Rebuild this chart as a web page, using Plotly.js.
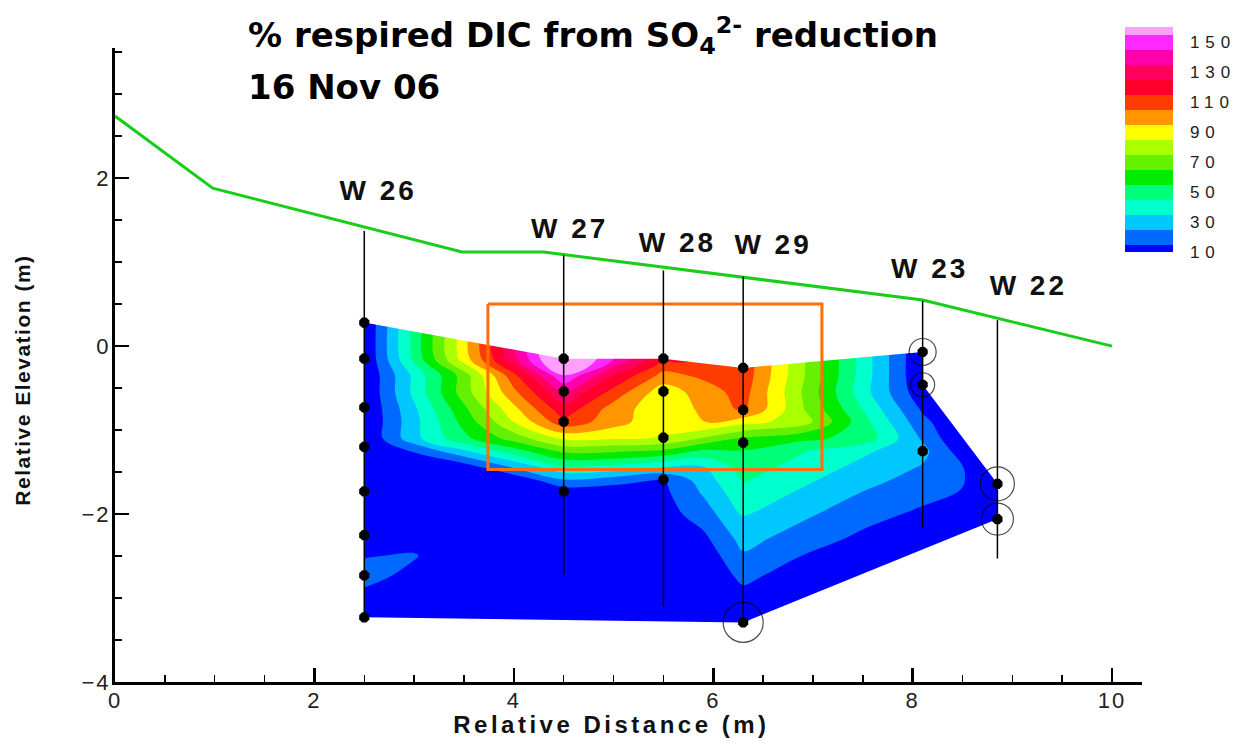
<!DOCTYPE html>
<html>
<head>
<meta charset="utf-8">
<script src="https://cdn.plot.ly/plotly-3.0.1.min.js"></script>
<style>
  html, body { margin: 0; padding: 0; background: #ffffff; }
  #chart { width: 1253px; height: 744px; }
  .xtick text, .ytick text { letter-spacing: 2px; }
  .colorbar text { letter-spacing: 6px; }
  .textpoint text { letter-spacing: 3px; }
  .annotation[data-index="2"] text { letter-spacing: 3.5px; }
  .annotation[data-index="3"] text { letter-spacing: 1.5px; }
</style>
</head>
<body>
<div id="chart"></div>
<script>
// Percent of respired DIC from sulfate reduction, values on a section grid
const gridX = [2.5, 3.0, 3.5, 4.0, 4.5, 5.0, 5.5, 5.9, 6.3, 6.9, 7.5, 8.1, 8.5, 8.85];
const gridY = [-3.3, -3.0, -2.75, -2.5, -2.3, -2.0, -1.75, -1.6, -1.45, -1.25, -1.1, -0.9, -0.75, -0.55, -0.35, -0.15, 0.3];
const gridZ = [
  [5, 5, 5, 5, 5, 5, 5, 5, 4, 4, 4, 4, 4, 4],
  [11, 5, 5, 5, 5, 5, 5, 5, 11.2, 4.2, 4, 4, 4, 4],
  [19, 11, 5, 5, 5.5, 5, 5, 6.3, 17.4, 9.2, 4, 4, 4, 4],
  [14.5, 16, 5, 5, 6, 5, 6.3, 8.5, 23.6, 14.7, 8.7, 5, 4, 4],
  [6.4, 10.4, 10.7, 5.5, 6, 5.5, 7.9, 12.4, 28.5, 19.7, 12.7, 7.1, 4, 4],
  [5, 5.5, 6.3, 6, 6.5, 7.6, 10.5, 19.9, 36, 27.1, 18.6, 13.1, 9.4, 5],
  [5, 5.5, 6, 6.5, 7, 8, 12.6, 26.1, 42.1, 33.3, 24.5, 18.1, 14.4, 5],
  [5, 5.5, 6, 6.5, 23.4, 19.1, 13.9, 29.8, 45.9, 37, 28.2, 21, 15.7, 5],
  [5, 5.5, 7.9, 25.1, 42.4, 40.7, 34.2, 33.5, 49.6, 40.8, 31.9, 24, 15.5, 5],
  [5, 15.9, 33.2, 50.4, 67.7, 66.7, 63, 52.8, 54.5, 45.7, 36.9, 28, 9.7, 5],
  [5, 31.8, 52.2, 69.4, 86.7, 85.7, 84.6, 73.9, 63.4, 57.4, 51.7, 23.6, 5, 5],
  [5, 31.8, 58.5, 85.3, 112, 99.5, 87, 96, 89.1, 80, 48.9, 17.8, 5, 5],
  [5, 33.2, 62.7, 92.1, 121.6, 100.3, 87.9, 97, 107.1, 75.6, 44.5, 13.4, 5, 5],
  [5, 37.5, 70, 102.5, 134.4, 111.4, 89, 100, 109.1, 74.1, 39.3, 7.6, 5, 5],
  [5, 37.5, 70, 112, 154.5, 124.7, 101.7, 107, 111.1, 76.1, 40.7, 5, 5, 5],
  [5, 47.5, 90, 132.5, 175, 145, 115, 116, 112, 76.3, 40.7, 5, 5, 5],
  [5, 47.5, 90, 132.5, 175, 145, 115, 116, 112, 76.3, 40.7, 5, 5, 5]
];

// Wells: position, casing top/bottom, label placement and sampling depths
const wellNames = ['W 26', 'W 27', 'W 28', 'W 29', 'W 23', 'W 22'];
const wellX = [2.5, 4.5, 5.5, 6.3, 8.1, 8.85];
const wellTop = [1.37, 1.08, 0.90, 0.83, 0.54, 0.31];
const wellBottom = [-3.23, -2.73, -3.10, -3.29, -2.17, -2.53];
const labelX = [2.64, 4.56, 5.64, 6.6, 8.17, 9.16];
const labelY = [1.82, 1.37, 1.2, 1.18, 0.89, 0.69];
const sampleDepths = [
  [0.28, -0.15, -0.73, -1.20, -1.73, -2.25, -2.73, -3.23],
  [-0.15, -0.54, -0.90, -1.73],
  [-0.15, -0.54, -1.09, -1.59],
  [-0.26, -0.76, -1.15, -3.29],
  [-0.07, -0.46, -1.25],
  [-1.64, -2.06]
];

// Circled samples (well index, depth, ring diameter in px)
const circledWell = [4, 4, 5, 5, 3];
const circledDepth = [-0.07, -0.46, -1.64, -2.06, -3.29];
const circledSize = [27, 24, 34, 32, 40];

// Ground surface profile
const groundX = [0, 0.98, 3.48, 4.3, 8.1, 10.0];
const groundY = [2.74, 1.88, 1.12, 1.12, 0.55, 0.0];

// Highlighted zone
const boxX = [3.74, 7.09];
const boxY = [-1.47, 0.50];

// Colour bands (values 10 .. 160, step 10) and colour bar labels
const bandValues = [10, 20, 30, 40, 50, 60, 70, 80, 90, 100, 110, 120, 130, 140, 150, 160];
const bandColors = [
  'rgb(0,0,255)', 'rgb(0,105,255)', 'rgb(0,200,255)', 'rgb(0,255,205)',
  'rgb(0,255,120)', 'rgb(0,235,0)', 'rgb(100,240,0)', 'rgb(170,255,0)',
  'rgb(255,255,0)', 'rgb(255,150,0)', 'rgb(255,60,0)', 'rgb(255,0,45)',
  'rgb(255,0,95)', 'rgb(255,0,170)', 'rgb(255,40,255)', 'rgb(255,160,255)'
];
const levelTicks = [10, 30, 50, 70, 90, 110, 130, 150];

// ---------------------------------------------------------------------------
const vMin = bandValues[0], vMax = bandValues[bandValues.length - 1];
const colorscale = bandValues.map((v, i) => [(v - vMin) / (vMax - vMin), bandColors[i]]);
const step = bandValues[1] - bandValues[0];

const contourTrace = {
  type: 'contour',
  x: gridX, y: gridY, z: gridZ,
  colorscale: colorscale,
  autocontour: false,
  contours: { start: vMin + step / 2, end: vMax - step / 2, size: step, coloring: 'fill', showlines: false },
  line: { width: 0 },
  hoverinfo: 'skip',
  colorbar: {
    x: 0.9834, xanchor: 'left', xpad: 0,
    y: 1.033, yanchor: 'top', ypad: 0,
    len: 225, lenmode: 'pixels',
    thickness: 48, thicknessmode: 'pixels',
    outlinewidth: 0,
    tickmode: 'array', tickvals: levelTicks,
    ticks: 'outside', ticklen: 14, tickcolor: 'rgba(0,0,0,0)',
    tickfont: { family: 'Liberation Sans, Arial, sans-serif', size: 17, color: '#222' }
  }
};

// Region outline taken from the outermost sampling points
const pt = (w, k) => [wellX[w], sampleDepths[w][k]];
const topEdge = [pt(0, 0), pt(1, 0), pt(2, 0), pt(3, 0), pt(4, 0), pt(4, 1), pt(5, 0)];
const bottomEdge = [pt(5, 1), pt(3, 3), pt(0, 7)];
const pad = 0.12;
const xL = gridX[0] - pad, xR = gridX[gridX.length - 1] + pad;
const yT = gridY[gridY.length - 1] + pad, yB = gridY[0] - pad;
const topMask = topEdge.concat([[xR, topEdge[topEdge.length - 1][1]], [xR, yT], [xL, yT], [xL, topEdge[0][1]]]);
const bottomMask = bottomEdge.concat([[xL, bottomEdge[bottomEdge.length - 1][1]], [xL, yB], [xR, yB], [xR, bottomEdge[0][1]]]);
const maskTrace = poly => ({
  type: 'scatter', mode: 'lines', fill: 'toself', fillcolor: '#ffffff',
  x: poly.map(p => p[0]).concat([poly[0][0]]),
  y: poly.map(p => p[1]).concat([poly[0][1]]),
  line: { width: 0, color: '#ffffff' }, hoverinfo: 'skip'
});

const boxTrace = {
  type: 'scatter', mode: 'lines',
  x: [boxX[0], boxX[1], boxX[1], boxX[0], boxX[0]],
  y: [boxY[1], boxY[1], boxY[0], boxY[0], boxY[1]],
  line: { color: 'rgb(255,110,10)', width: 3 }, hoverinfo: 'skip'
};

const groundTrace = {
  type: 'scatter', mode: 'lines', x: groundX, y: groundY,
  line: { color: 'rgb(25,205,25)', width: 3 }, hoverinfo: 'skip'
};

const wellLineX = [], wellLineY = [];
wellX.forEach((x, i) => { wellLineX.push(x, x, null); wellLineY.push(wellTop[i], wellBottom[i], null); });
const wellTrace = {
  type: 'scatter', mode: 'lines', x: wellLineX, y: wellLineY,
  line: { color: '#000', width: 1.5 }, hoverinfo: 'skip'
};

const sampX = [], sampY = [];
sampleDepths.forEach((ds, i) => ds.forEach(d => { sampX.push(wellX[i]); sampY.push(d); }));
const sampleTrace = {
  type: 'scatter', mode: 'markers', x: sampX, y: sampY,
  marker: { symbol: 'octagon', size: 11, color: '#000', line: { width: 0 } }, hoverinfo: 'skip'
};

const ringTrace = {
  type: 'scatter', mode: 'markers',
  x: circledWell.map(i => wellX[i]), y: circledDepth,
  marker: { symbol: 'circle-open', size: circledSize, color: '#000', line: { width: 1.2, color: '#000' } },
  hoverinfo: 'skip'
};

const labelTrace = {
  type: 'scatter', mode: 'text', x: labelX, y: labelY, text: wellNames,
  textposition: 'middle center',
  textfont: { family: 'Liberation Sans, Arial, sans-serif', size: 28, color: '#111', weight: 700 },
  hoverinfo: 'skip'
};

const axisFont = { family: 'Liberation Sans, Arial, sans-serif', size: 22, color: '#222' };
const titleFont = { family: 'DejaVu Sans, sans-serif', size: 34, color: '#000', weight: 700 };
const axisTitleFont = { family: 'Liberation Sans, Arial, sans-serif', color: '#111', weight: 700 };

const layout = {
  width: 1253, height: 744,
  margin: { l: 115, r: 111, t: 48, b: 62, autoexpand: false },
  paper_bgcolor: '#ffffff', plot_bgcolor: '#ffffff',
  showlegend: false,
  font: { family: 'Liberation Sans, Arial, sans-serif' },
  xaxis: {
    range: [0, 10.3], showgrid: false, zeroline: false,
    showline: true, linewidth: 3, linecolor: '#000',
    tick0: 0, dtick: 2, ticks: 'inside', ticklen: 14, tickwidth: 2.5, tickcolor: '#000',
    minor: { tick0: 0, dtick: 0.5, ticks: 'inside', ticklen: 7, tickwidth: 1.5, tickcolor: '#000' },
    tickfont: axisFont, ticklabelstandoff: -3
  },
  yaxis: {
    range: [-4, 3.55], showgrid: false, zeroline: false,
    showline: true, linewidth: 3, linecolor: '#000',
    tick0: 0, dtick: 2, ticks: 'inside', ticklen: 14, tickwidth: 2.5, tickcolor: '#000',
    minor: { tick0: 0, dtick: 0.5, ticks: 'inside', ticklen: 7, tickwidth: 1.5, tickcolor: '#000' },
    tickfont: axisFont, ticklabelstandoff: -3
  },
  annotations: [
    {
      xref: 'paper', yref: 'paper', x: 0.1276, y: 1.0205, xanchor: 'left', yanchor: 'middle',
      showarrow: false,
      text: '% respired DIC from SO<sub>4</sub><sup>2-</sup> reduction',
      font: titleFont
    },
    {
      xref: 'paper', yref: 'paper', x: 0.1276, y: 0.9385, xanchor: 'left', yanchor: 'middle',
      showarrow: false,
      text: '16 Nov 06',
      font: titleFont
    },
    {
      xref: 'paper', yref: 'paper', x: 0.4839, y: -0.0665, xanchor: 'center', yanchor: 'middle',
      showarrow: false,
      text: 'Relative Distance (m)',
      font: Object.assign({ size: 24 }, axisTitleFont)
    },
    {
      xref: 'paper', yref: 'paper', x: -0.0906, y: 0.476, xanchor: 'center', yanchor: 'middle',
      showarrow: false, textangle: -90,
      text: 'Relative Elevation (m)',
      font: Object.assign({ size: 21 }, axisTitleFont)
    }
  ]
};

const traces = [
  contourTrace,
  maskTrace(topMask), maskTrace(bottomMask),
  boxTrace, groundTrace, wellTrace, sampleTrace, ringTrace, labelTrace
];

Plotly.newPlot('chart', traces, layout, { displayModeBar: false, staticPlot: true });
</script>
</body>
</html>
